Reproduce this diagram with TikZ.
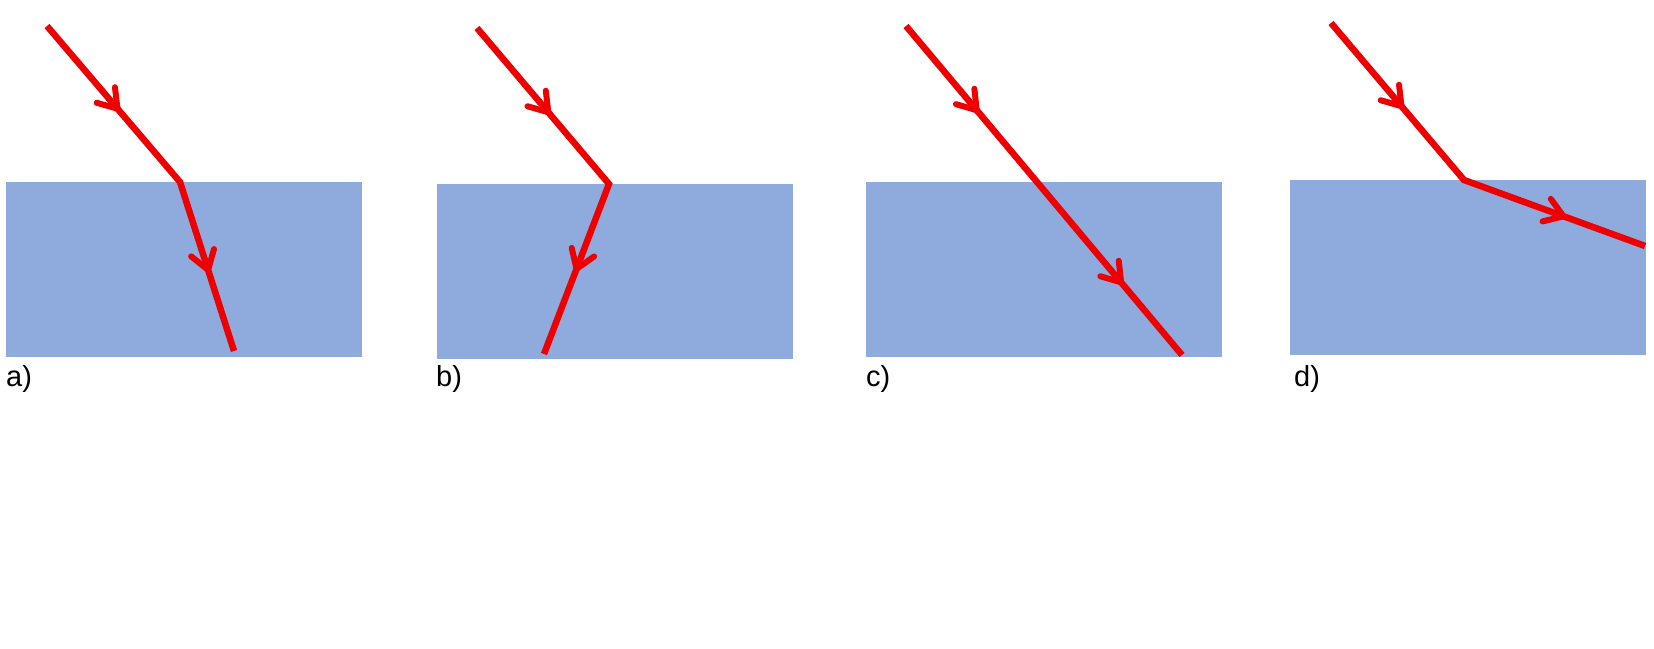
\documentclass[tikz,border=0pt]{standalone}
\usepackage{fontspec}
\setmainfont{Liberation Sans}
\usetikzlibrary{decorations.markings}
\definecolor{slabblue}{HTML}{8FAADC}
\definecolor{rayred}{RGB}{238,0,0}
\tikzset{
  slabbox/.style={fill=slabblue, draw=none},
  rayline/.style={draw=rayred, line width=6.5pt, line join=miter},
  chev/.style={postaction={decorate}, decoration={markings,
     mark=at position #1 with {\draw[rayred, line width=6pt, line cap=round, line join=round]
        (-18pt,12pt) -- (0pt,0pt) -- (-18pt,-12pt);}}},
  lab/.style={anchor=base west, inner sep=0pt, font=\fontsize{29}{32}\selectfont}
}
\begin{document}
\begin{tikzpicture}[x=1pt,y=-1pt]
\useasboundingbox (0,0) rectangle (1654,648);
% slabs
\fill[slabbox] (6,182) rectangle (362,357);
\fill[slabbox] (437,184) rectangle (793,359);
\fill[slabbox] (866,182) rectangle (1222,357);
\fill[slabbox] (1290,180) rectangle (1646,355);
% labels
\node[lab] (la) at (6,386) {a)};
\node[lab] (lb) at (436,386) {b)};
\node[lab] (lc) at (866,386) {c)};
\node[lab] (ld) at (1294,386) {d)};
% panel a
\coordinate (a0) at (47,26);
\coordinate (a1) at (180,182);
\coordinate (a2) at (234,351);
\draw[rayline] (a0) -- (a1) -- (a2);
\path[chev=0.53] (a0) -- (a1);
\path[chev=0.52] (a1) -- (a2);
% panel b
\coordinate (b0) at (477,28);
\coordinate (b1) at (609,184);
\coordinate (b2) at (544,354);
\draw[rayline] (b0) -- (b1) -- (b2);
\path[chev=0.54] (b0) -- (b1);
\path[chev=0.50] (b1) -- (b2);
% panel c
\coordinate (c0) at (906,26);
\coordinate (c1) at (1037,182);
\coordinate (c2) at (1182,355);
\draw[rayline] (c0) -- (c1) -- (c2);
\path[chev=0.54] (c0) -- (c1);
\path[chev=0.58] (c1) -- (c2);
% panel d
\coordinate (d0) at (1331,23);
\coordinate (d1) at (1464,180);
\coordinate (d2) at (1645,246);
\draw[rayline] (d0) -- (d1) -- (d2);
\path[chev=0.53] (d0) -- (d1);
\path[chev=0.55] (d1) -- (d2);
\end{tikzpicture}
\end{document}
